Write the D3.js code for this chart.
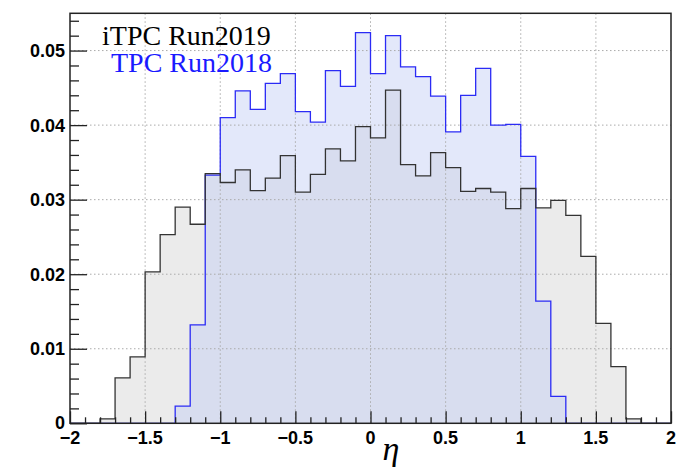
<!DOCTYPE html>
<html>
<head>
<meta charset="utf-8">
<script src="https://cdn.jsdelivr.net/npm/d3@7"></script>
<style>
  body { margin: 0; background: #fff; }
  svg { display: block; }
</style>
</head>
<body>
<div id="graph"></div>
<script>
// eta histograms, 40 bins of width 0.1 starting at -2
const etaStart = -2.0
const binWidth = 0.1

const itpc2019 = [
  0, 0, 0.0006, 0.0061, 0.0089, 0.0203, 0.0253, 0.0290, 0.0267, 0.0335,
  0.0323, 0.0340, 0.0312, 0.0329, 0.0359, 0.0310, 0.0334, 0.0368, 0.0352, 0.0398,
  0.0383, 0.0447, 0.0347, 0.0332, 0.0363, 0.0343, 0.0311, 0.0315, 0.0310, 0.0288,
  0.0315, 0.0289, 0.0299, 0.0279, 0.0224, 0.0134, 0.0076, 0.0006, 0, 0
]

const tpc2018 = [
  0, 0, 0, 0, 0, 0, 0, 0.0023, 0.0132, 0.0333,
  0.0410, 0.0446, 0.0421, 0.0456, 0.0469, 0.0418, 0.0404, 0.0473, 0.0452, 0.0524,
  0.0469, 0.0520, 0.0478, 0.0465, 0.0439, 0.0391, 0.0440, 0.0476, 0.0400, 0.0401,
  0.0358, 0.0164, 0.0036, 0, 0, 0, 0, 0, 0, 0
]

const xTicks = [-2, -1.5, -1, -0.5, 0, 0.5, 1, 1.5, 2]
const yTicks = [0, 0.01, 0.02, 0.03, 0.04, 0.05]
const legendLabels = ['iTPC Run2019', 'TPC Run2018']

let width = 676, height = 471
let frame = { left: 70, right: 671, top: 13.3, bottom: 423.3 }

let svg = d3.select('#graph')
  .append('svg')
  .attr('width', width)
  .attr('height', height)

let x = d3.scaleLinear().domain([-2, 2]).range([frame.left, frame.right])
let y = d3.scaleLinear().domain([0, 0.055]).range([frame.bottom, frame.top])

// turn the bin contents into step points
function steps(values) {
  let pts = values.map((v, i) => [etaStart + i * binWidth, v])
  pts.push([etaStart + values.length * binWidth, values[values.length - 1]])
  return pts
}

let area = d3.area()
  .x(d => x(d[0]))
  .y0(y(0))
  .y1(d => y(d[1]))
  .curve(d3.curveStepAfter)

let line = d3.line()
  .x(d => x(d[0]))
  .y(d => y(d[1]))
  .curve(d3.curveStepAfter)

// fills
svg.append('path')
  .attr('d', area(steps(itpc2019)))
  .attr('fill', '#ebebeb')

svg.append('path')
  .attr('d', area(steps(tpc2018)))
  .attr('fill', 'rgb(193,204,244)')
  .attr('fill-opacity', 0.45)

// grid
let grid = svg.append('g')
  .attr('stroke', '#aaa')
  .attr('stroke-width', 1)
  .attr('stroke-dasharray', '1.5,2.5')
grid.selectAll('.gx')
  .data(xTicks.slice(1, -1))
  .join('line')
  .attr('x1', d => x(d)).attr('x2', d => x(d))
  .attr('y1', frame.top).attr('y2', frame.bottom)
grid.selectAll('.gy')
  .data(yTicks.slice(1))
  .join('line')
  .attr('x1', frame.left).attr('x2', frame.right)
  .attr('y1', d => y(d)).attr('y2', d => y(d))

// outlines
svg.append('path')
  .attr('d', line(steps(tpc2018)))
  .attr('fill', 'none')
  .attr('stroke', '#2b2bf5')
  .attr('stroke-width', 1.3)

svg.append('path')
  .attr('d', line(steps(itpc2019)))
  .attr('fill', 'none')
  .attr('stroke', '#333')
  .attr('stroke-width', 1.3)

// frame
svg.append('rect')
  .attr('x', frame.left).attr('y', frame.top)
  .attr('width', frame.right - frame.left)
  .attr('height', frame.bottom - frame.top)
  .attr('fill', 'none')
  .attr('stroke', '#222')
  .attr('stroke-width', 1.5)

// ticks (ROOT style, inside the frame)
let xAxis = d3.axisBottom(x)
  .tickValues(d3.range(-20, 21).map(i => i / 10))
  .tickSizeInner(-6).tickSizeOuter(0)
  .tickFormat('')
let gx = svg.append('g')
  .attr('transform', 'translate(0,' + frame.bottom + ')')
  .call(xAxis)
gx.select('.domain').remove()
gx.selectAll('.tick line')
  .attr('stroke', '#222').attr('stroke-width', 1.3)
  .attr('y2', d => Math.abs(Math.round(d * 10) % 5) === 0 ? -12 : -6)

let yAxis = d3.axisLeft(y)
  .tickValues(d3.range(0, 28).map(i => i * 0.002))
  .tickSizeInner(-9).tickSizeOuter(0)
  .tickFormat('')
let gy = svg.append('g')
  .attr('transform', 'translate(' + frame.left + ',0)')
  .call(yAxis)
gy.select('.domain').remove()
gy.selectAll('.tick line')
  .attr('stroke', '#222').attr('stroke-width', 1.3)
  .attr('x2', (d, i) => i % 5 === 0 ? 17 : 9)

// tick labels
svg.append('g')
  .selectAll('text')
  .data(xTicks)
  .join('text')
  .attr('x', d => x(d))
  .attr('y', 443.5)
  .attr('text-anchor', 'middle')
  .attr('font-family', 'Liberation Sans, Arial, sans-serif')
  .attr('font-weight', 'bold')
  .attr('font-size', 18)
  .text(d => d < 0 ? '\u2212' + Math.abs(d) : d)

svg.append('g')
  .selectAll('text')
  .data(yTicks)
  .join('text')
  .attr('x', 65)
  .attr('y', d => y(d) + (d === 0 ? 5.5 : 6.5))
  .attr('text-anchor', 'end')
  .attr('font-family', 'Liberation Sans, Arial, sans-serif')
  .attr('font-weight', 'bold')
  .attr('font-size', 18)
  .text(d => d === 0 ? '0' : d.toFixed(2))

// axis title
svg.append('text')
  .attr('x', 391)
  .attr('y', 460)
  .attr('text-anchor', 'middle')
  .attr('font-family', 'Liberation Serif, Times New Roman, serif')
  .attr('font-style', 'italic')
  .attr('font-size', 34)
  .text('\u03b7')

// legend
svg.append('text')
  .attr('x', 102).attr('y', 45)
  .attr('font-family', 'Liberation Serif, Times New Roman, serif')
  .attr('font-size', 28)
  .attr('fill', '#000')
  .text(legendLabels[0])
svg.append('text')
  .attr('x', 111).attr('y', 72)
  .attr('font-family', 'Liberation Serif, Times New Roman, serif')
  .attr('font-size', 28)
  .attr('fill', '#1a1aff')
  .text(legendLabels[1])
</script>
</body>
</html>
